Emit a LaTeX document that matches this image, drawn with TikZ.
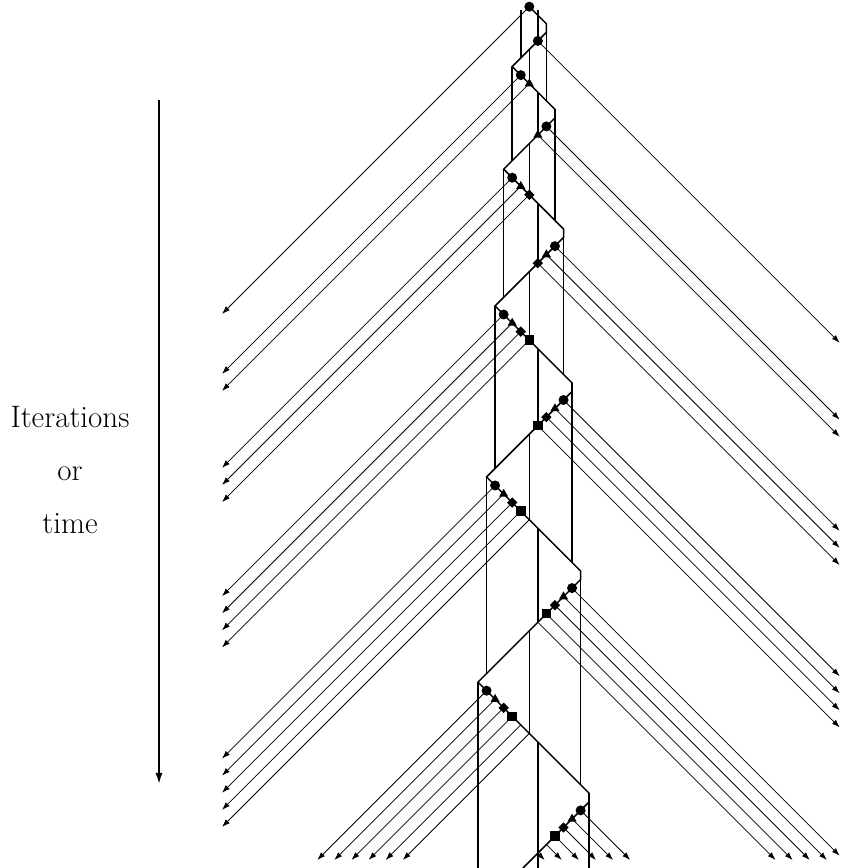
\documentclass[tikz,border=0pt]{standalone}
\usepackage{tikz}
\usetikzlibrary{arrows.meta,shapes.geometric}

\begin{document}
\begin{tikzpicture}[x=8.55pt, y=-8.55pt, >={Latex[length=8pt,width=5.5pt]},
    wall/.style={line width=1.5pt},
    msg/.style={->, line width=0.75pt},
    dot/.style={circle, fill, inner sep=0pt, minimum size=10pt},
    tri/.style={regular polygon, regular polygon sides=3, fill, inner sep=0pt, minimum size=10.5pt},
    dmd/.style={diamond, fill, inner sep=0pt, minimum size=10.5pt},
    sqr/.style={rectangle, fill, inner sep=0pt, minimum size=9.5pt}]
  \useasboundingbox (-61.91,-0.784) rectangle (36.46,100.74);
  % time axis
  \coordinate (tstart) at (-43.31,10.91);
  \coordinate (tend) at (-43.31,91.03);
  \draw[line width=2.8pt, -{Latex[length=12pt,width=7pt]}] (tstart) -- (tend);
  \node[align=center, font=\fontsize{31}{53}\selectfont] (axislabel) at (-53.72,54.2) {Iterations\\or\\time};
  % zigzag
  \draw[wall] (0,0) -- (2,2) -- (2,3) -- (-2,7) -- (3,12) -- (3,13) -- (-3,19) -- (4,26) -- (4,27)
      -- (-4,35) -- (5,44) -- (5,45) -- (-5,55) -- (6,66) -- (6,67) -- (-6,79) -- (7,92) -- (7,93)
      -- (-0.74,100.74);
  % outer walls
  \foreach \x/\a/\b in {-1/0.39/6, -2/7/18, -3/19/34, -4/35/54, -5/55/78, -6/79/100.74,
                        2/2/11, 3/12/25, 4/26/43, 5/44/65, 6/66/91, 7/92/100.74}
    \draw[wall] (\x,\a) -- (\x,\b);
  % inner processors
  \foreach \x/\a/\b in {1/0.39/4, 1/10/15, 1/23/30, 1/40/49, 1/61/72, 1/86/100.74,
                        0/5/9, 0/16/22, 0/31/39, 0/50/60, 0/73/85}
    \draw[wall] (\x,\a) -- (\x,\b);
  % left phases
  \foreach \m/\yc in {0/0, 1/8, 2/20, 3/36, 4/56, 5/80} {
    \foreach \j in {0,...,\m} {
      \pgfmathsetmacro\px{-\m+\j}
      \pgfmathsetmacro\py{\yc+\j}
      \pgfmathsetmacro\len{min(\px+35.94, 99.8-\py)}
      \coordinate (L-\m-\j) at (\px,\py);
      \draw[msg] (L-\m-\j) -- ++(-\len,\len);
      \ifcase\j \node[dot] (mL-\m-\j) at (L-\m-\j) {};
      \or \node[tri] (mL-\m-\j) at (L-\m-\j) {};
      \or \node[dmd] (mL-\m-\j) at (L-\m-\j) {};
      \or \node[sqr] (mL-\m-\j) at (L-\m-\j) {};
      \fi
    }
  }
  % right phases
  \foreach \m/\yc in {1/4, 2/14, 3/28, 4/46, 5/68, 6/94} {
    \foreach \j in {1,...,\m} {
      \pgfmathsetmacro\px{\m-\j+1}
      \pgfmathsetmacro\py{\yc+\j-1}
      \pgfmathsetmacro\len{min(36.3-\px, 99.8-\py)}
      \coordinate (R-\m-\j) at (\px,\py);
      \draw[msg] (R-\m-\j) -- ++(\len,\len);
      \ifcase\j
      \or \node[dot] (mR-\m-\j) at (R-\m-\j) {};
      \or \node[tri] (mR-\m-\j) at (R-\m-\j) {};
      \or \node[dmd] (mR-\m-\j) at (R-\m-\j) {};
      \or \node[sqr] (mR-\m-\j) at (R-\m-\j) {};
      \fi
    }
  }
\end{tikzpicture}
\end{document}
